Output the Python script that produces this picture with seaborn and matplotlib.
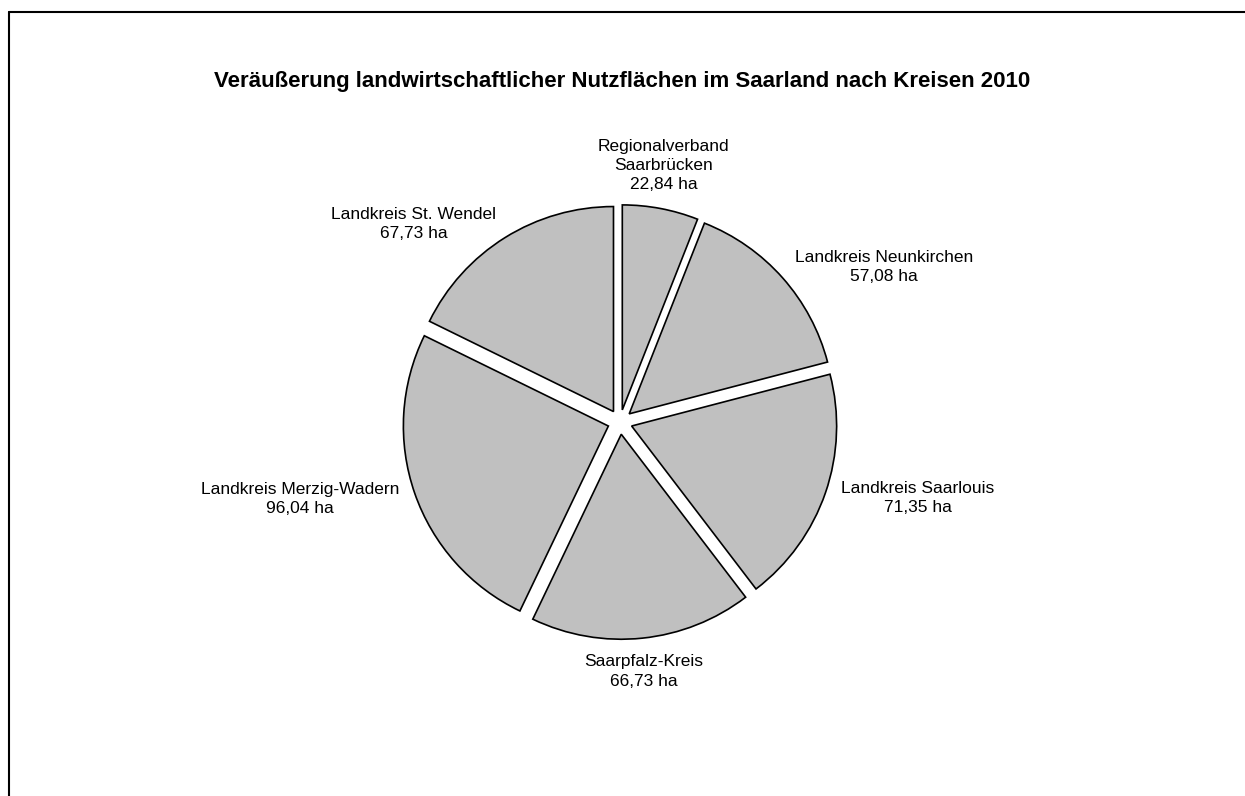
import matplotlib
matplotlib.use("Agg")
import matplotlib.pyplot as plt
import seaborn as sns
from matplotlib.lines import Line2D

kreise = [
    "Regionalverband\nSaarbrücken",
    "Landkreis Neunkirchen",
    "Landkreis Saarlouis",
    "Saarpfalz-Kreis",
    "Landkreis Merzig-Wadern",
    "Landkreis St. Wendel",
]
flaeche_ha = [22.84, 57.08, 71.35, 66.73, 96.04, 67.73]

sns.set_theme(style="white")
plt.rcParams["font.family"] = ["Liberation Sans", "DejaVu Sans"]
plt.rcParams["text.color"] = "black"

W, H = 1245, 796
fig = plt.figure(figsize=(W / 100, H / 100), dpi=100)

# Pie axes: centre at about (620, 422) px, radius 205 px
cx, cy, r_px, box = 620, 422, 205, 640
ax = fig.add_axes([(cx - box / 2) / W, (H - cy - box / 2) / H, box / W, box / H])
lim = box / 2 / r_px

labels = [f"{k}\n" + f"{v:.2f}".replace(".", ",") + " ha" for k, v in zip(kreise, flaeche_ha)]
wedges, texts = ax.pie(
    flaeche_ha,
    labels=labels,
    startangle=90,
    counterclock=False,
    explode=[0.06] * len(flaeche_ha),
    colors=["#C0C0C0"] * len(flaeche_ha),
    wedgeprops=dict(edgecolor="black", linewidth=1.2),
    labeldistance=1.08,
    textprops=dict(fontsize=12.5, color="black", linespacing=1.35),
)
for t in texts:
    x, y = t.get_position()
    t.set_multialignment("center")
    if abs(x) < 0.35:
        t.set_ha("center")
        t.set_va("bottom" if y > 0 else "top")
    else:
        t.set_ha("left" if x > 0 else "right")
        t.set_va("center")

ax.set_xlim(-lim, lim)
ax.set_ylim(-lim, lim)
ax.set_aspect("equal")
ax.axis("off")

fig.text(622 / W, 1 - 82 / H,
         "Veräußerung landwirtschaftlicher Nutzflächen im Saarland nach Kreisen 2010",
         ha="center", va="center", fontsize=16, fontweight="bold", color="black")

# Frame (open to the right and bottom edge of the image)
x0, y0 = 8.5 / W, 1 - 11.5 / H
fig.add_artist(Line2D([x0, x0], [0, y0], color="black", lw=1.5, transform=fig.transFigure))
fig.add_artist(Line2D([x0, 1], [y0, y0], color="black", lw=1.5, transform=fig.transFigure))

fig.savefig("out.png", dpi=100)
